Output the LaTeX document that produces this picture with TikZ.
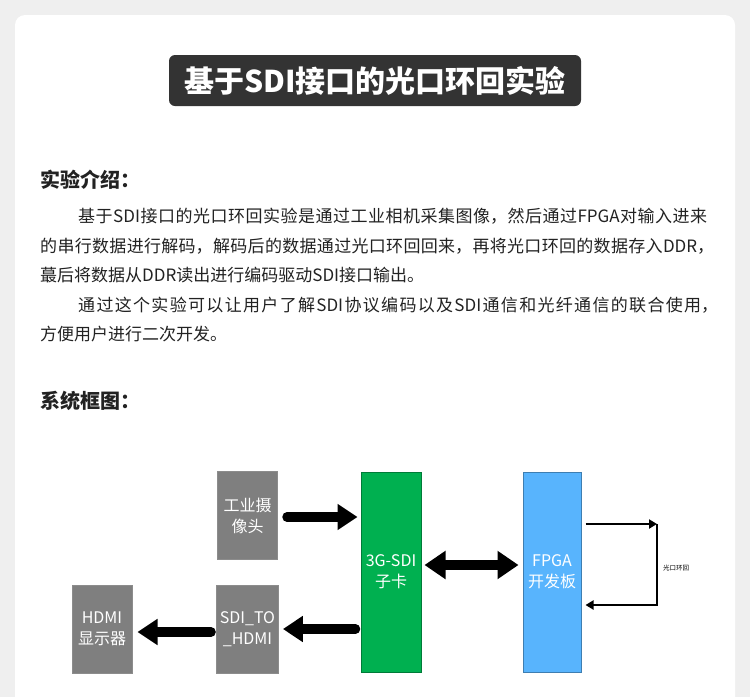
\documentclass[tikz,border=0pt]{standalone}
\usepackage{fontspec}
\usepackage{xcolor}
\usetikzlibrary{arrows.meta}
\setmainfont{Noto Sans CJK SC}
\XeTeXlinebreaklocale "zh"
\XeTeXlinebreakskip = 0pt plus 2pt
\definecolor{pagegray}{HTML}{EFEFEF}
\definecolor{titledark}{HTML}{333333}
\definecolor{textdark}{HTML}{222222}
\definecolor{boxgray}{HTML}{7F7F7F}
\definecolor{boxgreen}{HTML}{00B050}
\definecolor{boxblue}{HTML}{58B4FD}
\newcommand{\fullline}[2]{\parbox{#1}{\parfillskip=0pt\tolerance=9999 #2}}

\begin{document}
\begin{tikzpicture}[x=1pt,y=-1pt,
  blk/.style={rectangle,draw=black!45,line width=1pt,text=white,
    minimum width=60pt,align=center,font=\fontsize{16}{21}\selectfont},
  heading/.style={anchor=west,inner sep=0pt,text=textdark,
    font=\fontsize{20}{24}\selectfont\bfseries},
  body/.style={anchor=west,inner sep=0pt,text=textdark,
    font=\fontsize{17}{20}\selectfont},
  fat/.style={line width=9.5pt,line cap=round,
    -{Triangle[length=20pt,width=25pt]}},
  fatboth/.style={line width=9.5pt,
    {Triangle[length=21pt,width=27pt]}-{Triangle[length=21pt,width=27pt]}},
  loopline/.style={line width=2.5pt,-{Triangle[length=8pt,width=9pt]}}]

  \useasboundingbox (0,0) rectangle (750,697);
  \clip (0,0) rectangle (750,697);
  \fill[pagegray] (0,0) rectangle (750,697);
  \fill[white,rounded corners=10pt] (15,15) rectangle (735,720);

  % title
  \node[fill=titledark,rounded corners=6pt,minimum width=412pt,minimum height=51pt,
    text=white,font=\fontsize{30}{32}\selectfont\bfseries] (title) at (375,80.5)
    {基于SDI接口的光口环回实验};

  % introduction
  \node[heading] (intro) at (40,180) {实验介绍：};
  \node[body] (l1) at (78,216) {\fullline{629pt}{基于SDI接口的光口环回实验是通过工业相机采集图像，然后通过FPGA对输入进来}};
  \node[body] (l2) at (40,246) {\fullline{674pt}{的串行数据进行解码，解码后的数据通过光口环回回来，再将光口环回的数据存入DDR，}};
  \node[body] (l3) at (40,275) {蕞后将数据从DDR读出进行编码驱动SDI接口输出。};
  \node[body] (l4) at (78,305) {\fullline{640pt}{通过这个实验可以让用户了解SDI协议编码以及SDI通信和光纤通信的联合使用，}};
  \node[body] (l5) at (40,334) {方便用户进行二次开发。};

  \node[heading] (sys) at (40,401) {系统框图：};

  % block diagram
  \node[blk,fill=boxgray,minimum height=88pt] (cam) at (247.5,515.5) {工业摄\\像头};
  \node[blk,fill=boxgray,minimum height=88pt] (conv) at (247.5,629) {SDI\_TO\\\_HDMI};
  \node[blk,fill=boxgray,minimum height=88pt] (hdmi) at (102,629) {HDMI\\显示器};
  \node[blk,fill=boxgreen,draw=boxgreen!70!black,minimum height=200pt] (sdi) at (391,572) {3G-SDI\\子卡};
  \node[blk,fill=boxblue,draw=boxblue!70!black,minimum width=58pt,minimum height=200pt] (fpga) at (552,572) {FPGA\\开发板};

  \draw[fat,shorten <=9pt,shorten >=3pt] ([yshift=-1.5pt]cam.east) -- ([yshift=-1.5pt]sdi.west |- cam.east);
  \draw[fatboth,shorten <=3pt,shorten >=4pt] ([yshift=7pt]sdi.east) -- ([yshift=7pt]fpga.west);
  \draw[fat,shorten <=5pt,shorten >=4pt] (sdi.west |- conv.east) -- (conv.east);
  \draw[fat,shorten <=5pt,shorten >=5pt] ([yshift=-3pt]conv.west) -- ([yshift=-3pt]hdmi.east);

  % optical loop
  \coordinate (looptop) at (657,524);
  \coordinate (loopbot) at (657,605);
  \draw[loopline,shorten <=4pt] (fpga.east |- looptop) -- (looptop);
  \draw[loopline,line join=miter,shorten >=4pt] (looptop) -- (loopbot) -- (fpga.east |- loopbot);
  \node[font=\fontsize{6.5}{7}\selectfont,anchor=west,inner sep=0pt] (looplbl) at (663,568) {光口环回};
\end{tikzpicture}
\end{document}
